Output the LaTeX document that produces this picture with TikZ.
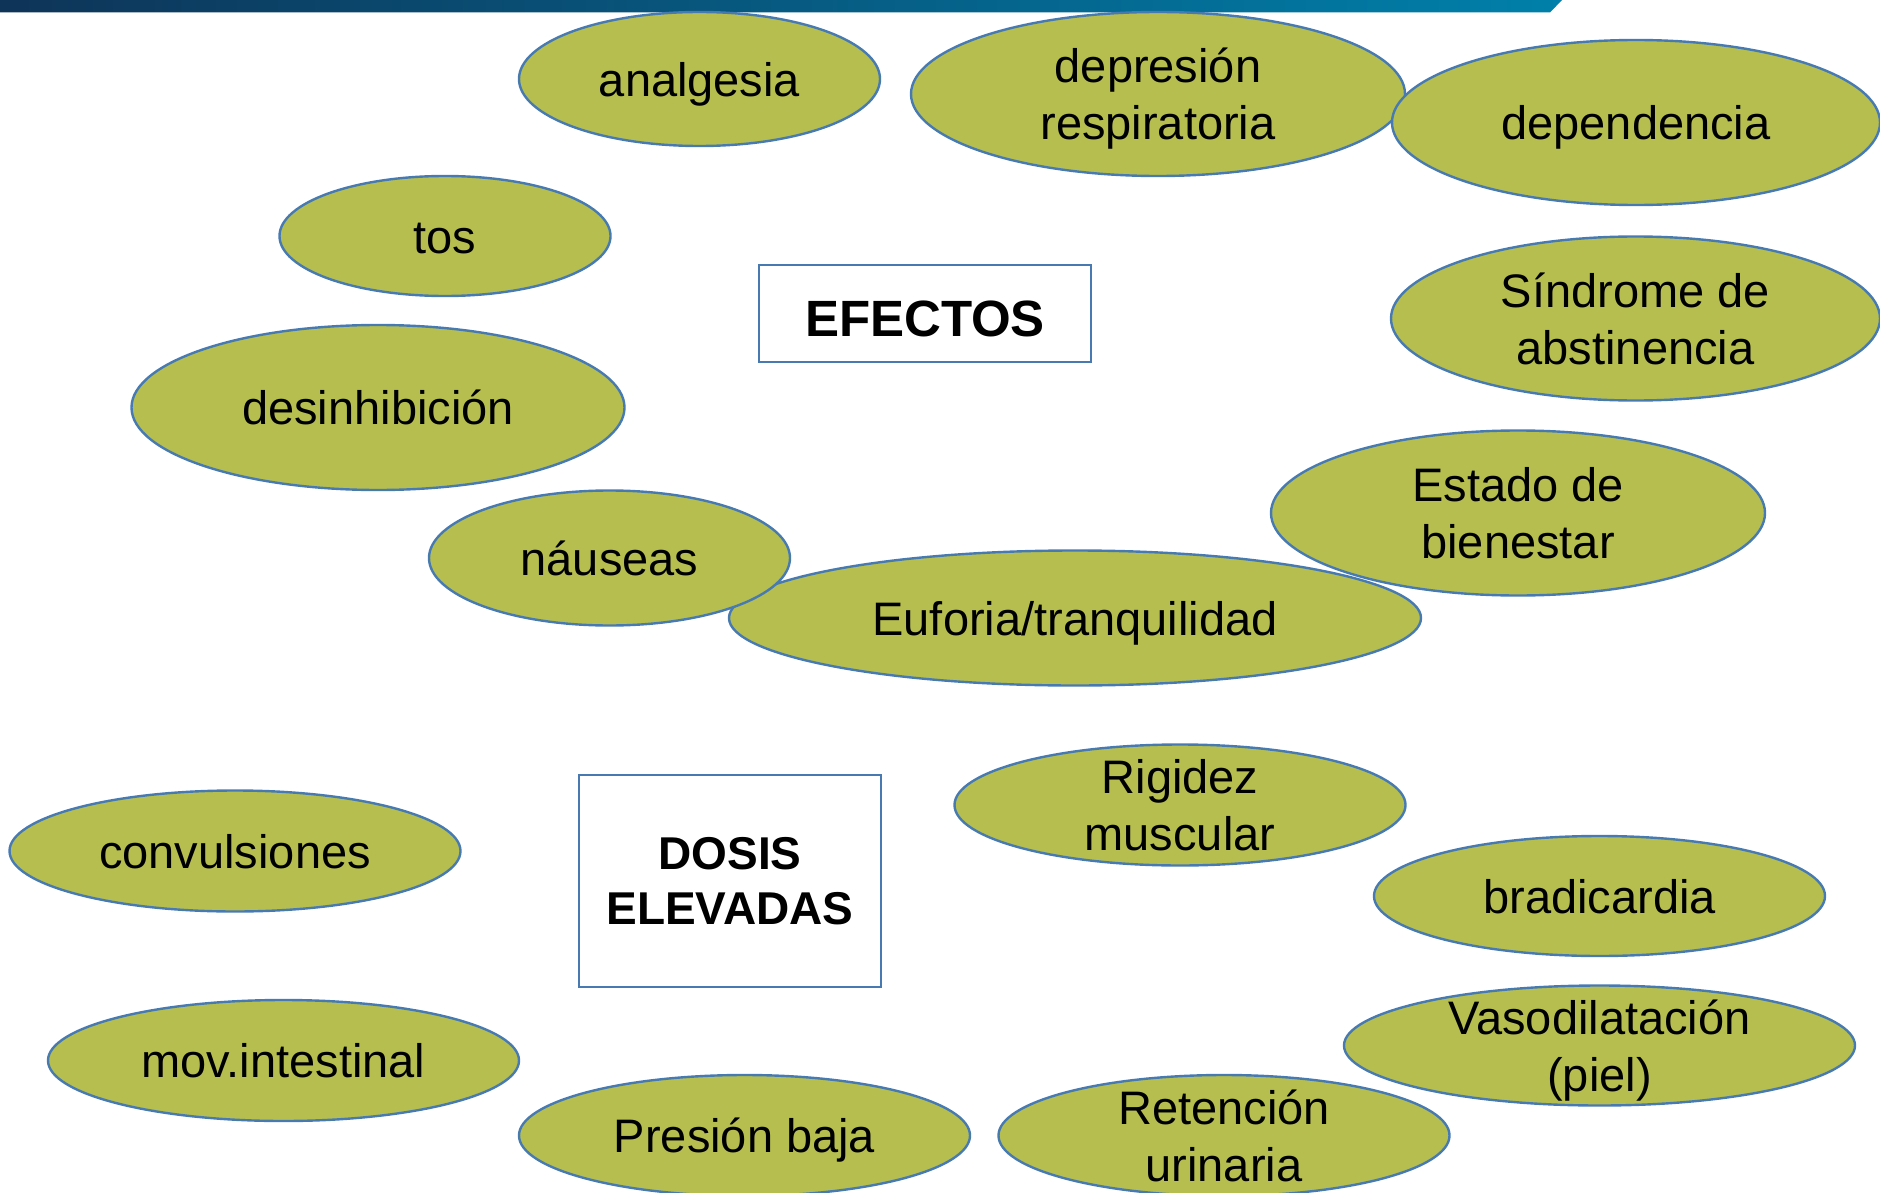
\documentclass[tikz,border=0pt]{standalone}
\usepackage{fontspec}
\setmainfont{Liberation Sans}
\usetikzlibrary{shapes.geometric}
\definecolor{oliva}{RGB}{181,190,78}
\definecolor{borde}{RGB}{72,122,178}
\definecolor{barraA}{RGB}{14,52,88}
\definecolor{barraB}{RGB}{0,128,170}
% puntales para centrar el texto como en la diapositiva
\newcommand{\puntal}{\rule[-6.5pt]{0pt}{30.2pt}}
\newcommand{\puntaltit}{\rule[-5.5pt]{0pt}{33.5pt}}
\begin{document}
\begin{tikzpicture}[x=0.5pt, y=-0.5pt,
		burbuja/.style={ellipse, draw=borde, fill=oliva, line width=1.2pt, inner xsep=0pt, inner ysep=-10pt,
			align=center, font=\fontsize{23.5}{28.5}\selectfont,
			execute at begin node=\puntal, execute at end node=\puntal},
		titulo/.style={rectangle, draw=borde, fill=white, line width=1.3pt, inner sep=0pt,
			align=center, font=\bfseries}]

	\useasboundingbox (0,0) rectangle (1880,1193);

	% ===== barra superior =====
	\shade[left color=barraA, right color=barraB] (0,0) -- (1562,0) -- (1550,12.5) -- (0,12.5) -- cycle;

	% ===== efectos =====
	\node[burbuja, minimum width=180.5pt, minimum height=67pt] (analgesia) at (699.5,79) {analgesia};
	\node[burbuja, minimum width=247pt, minimum height=82pt] (depresion) at (1158,94) {\puntal depresión\\respiratoria};
	\node[burbuja, minimum width=244pt, minimum height=82.5pt] (dependencia) at (1636,122.5) {dependencia};
	\node[burbuja, minimum width=165.5pt, minimum height=60pt] (tos) at (445,236) {tos};
	\node[titulo, minimum width=166pt, minimum height=48.5pt, font=\fontsize{25.5}{30}\selectfont\bfseries,
		execute at begin node=\puntaltit] (efectos) at (925,313.5) {EFECTOS};
	\node[burbuja, minimum width=246.5pt, minimum height=82.5pt] (desinhibicion) at (378,407.5) {desinhibición};
	\node[burbuja, minimum width=244.5pt, minimum height=82pt] (abstinencia) at (1635.5,318.5) {\puntal Síndrome de\\abstinencia};
	\node[burbuja, minimum width=247pt, minimum height=82.5pt] (bienestar) at (1518,513) {\puntal Estado de\\bienestar};
	\node[burbuja, minimum width=346pt, minimum height=67.5pt] (euforia) at (1075,618) {Euforia/tranquilidad};
	\node[burbuja, minimum width=180.5pt, minimum height=67.5pt] (nauseas) at (609.5,558) {náuseas};

	% ===== dosis elevadas =====
	\node[titulo, minimum width=151pt, minimum height=106pt, font=\fontsize{23}{27.5}\selectfont\bfseries] (dosis) at (730,881) {DOSIS\\ELEVADAS};
	\node[burbuja, minimum width=225.5pt, minimum height=60.5pt] (rigidez) at (1180,805) {\puntal Rigidez\\muscular};
	\node[burbuja, minimum width=225.5pt, minimum height=60.5pt] (convulsiones) at (235,851) {convulsiones};
	\node[burbuja, minimum width=225.5pt, minimum height=60pt] (bradicardia) at (1599.5,896) {bradicardia};
	\node[burbuja, minimum width=255.5pt, minimum height=60pt] (vasodilatacion) at (1599.5,1045.5) {\puntal Vasodilatación\\(piel)};
	\node[burbuja, minimum width=235.5pt, minimum height=60.5pt] (intestinal) at (283.5,1060.5) {mov.intestinal};
	\node[burbuja, minimum width=225.5pt, minimum height=60.5pt] (presion) at (744.5,1135.5) {Presión baja};
	\node[burbuja, minimum width=225.5pt, minimum height=60.5pt] (retencion) at (1224,1135.5) {\puntal Retención\\urinaria};
\end{tikzpicture}
\end{document}
